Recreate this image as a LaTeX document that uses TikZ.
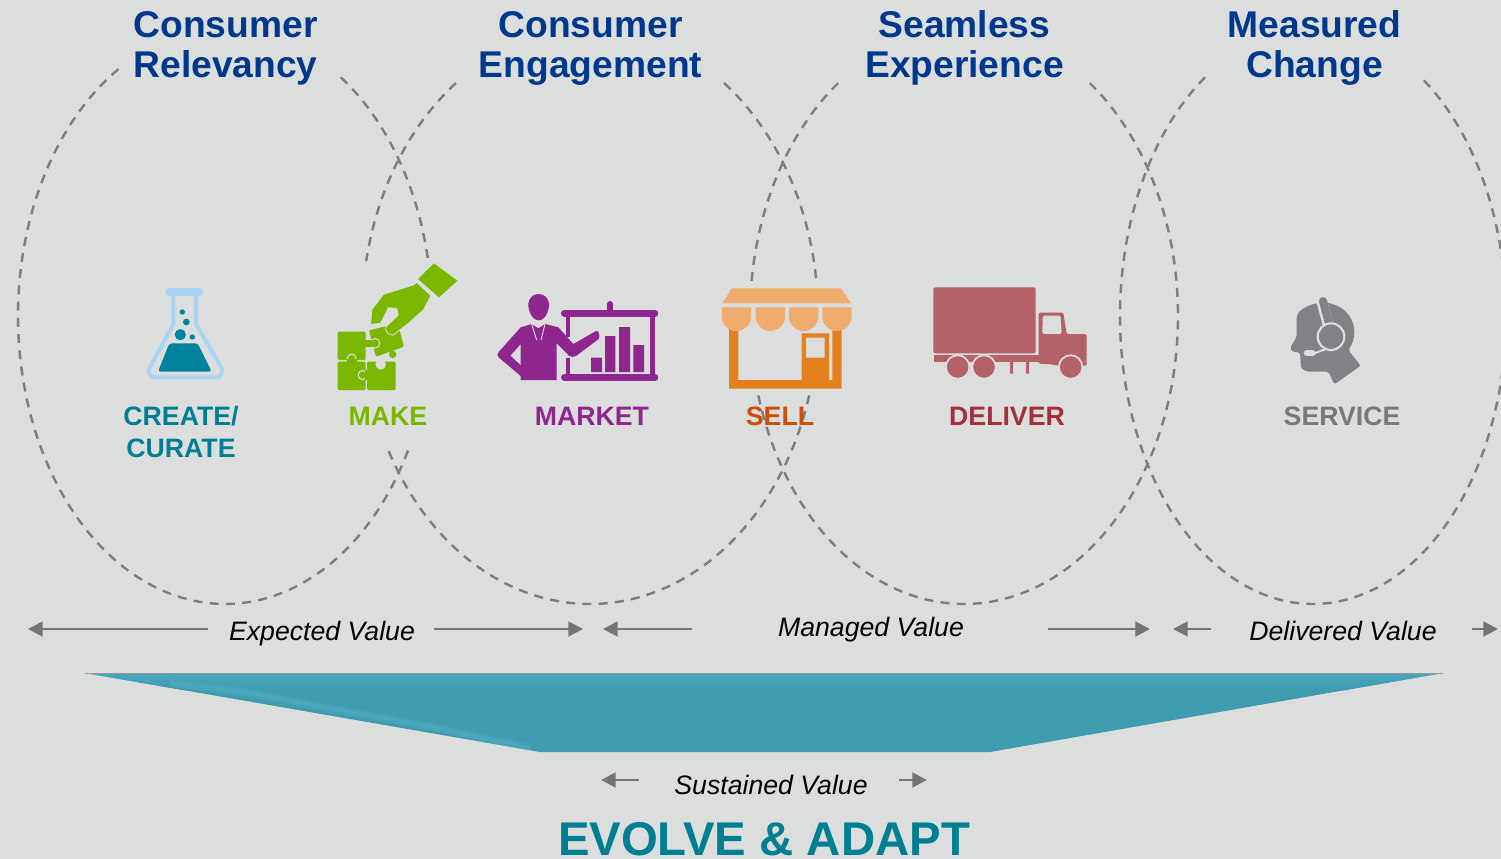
\documentclass[tikz,border=0pt]{standalone}
\usepackage{fontspec}
\setmainfont{Liberation Sans}
\usetikzlibrary{arrows.meta}
\definecolor{bgc}{HTML}{DCDEDD}
\definecolor{dashc}{HTML}{7C7E7F}
\definecolor{arrc}{HTML}{737576}
\definecolor{titlec}{HTML}{00388E}
\definecolor{tealc}{HTML}{007F93}
\definecolor{greenc}{HTML}{7AB800}
\definecolor{purpc}{HTML}{8F268E}
\definecolor{sellc}{HTML}{CC4E0A}
\definecolor{delc}{HTML}{A52F38}
\definecolor{servc}{HTML}{77797A}
\definecolor{flaskc}{HTML}{A9D3F2}
\definecolor{liqc}{HTML}{00819F}
\definecolor{awnc}{HTML}{F0AC6E}
\definecolor{shopc}{HTML}{E5801E}
\definecolor{truckc}{HTML}{B56168}
\definecolor{headc}{HTML}{808285}
\definecolor{func}{HTML}{3F9BAE}
\definecolor{funl}{HTML}{52AEC2}
\tikzset{
  px/.style={x=0.75pt,y=-0.75pt},
  zoomed/.style={x=0.25pt,y=-0.25pt},
  ell/.style={draw=dashc,line width=1.8pt,dash pattern=on 6.8pt off 5.4pt,samples=90,smooth},
  flow/.style={draw=arrc,line width=2.1pt,-{Triangle[length=11pt,width=11pt]}},
  title/.style={font=\fontsize{27.9}{30}\selectfont\bfseries,text=titlec,anchor=base,inner sep=0pt},
  lab/.style={font=\fontsize{20}{22}\selectfont\bfseries,anchor=base,inner sep=0pt},
  val/.style={font=\fontsize{20}{22}\selectfont\itshape,text=black,anchor=base,inner sep=0pt},
}
\newcommand{\ellarc}[6]{\draw[ell,domain=#5:#6] plot ({#1+#3*cos(\x)},{#2-#4*sin(\x)});}
\begin{document}
\begin{tikzpicture}[px]
\useasboundingbox (0,0) rectangle (1501,859);
\fill[bgc] (0,0) rectangle (1501,859);
\begin{scope}
\clip (0,0) rectangle (1501,859);
% dashed ellipses
\ellarc{225}{316}{207}{288}{121}{333}
\ellarc{225}{316}{207}{288}{56}{11}
\ellarc{590}{316}{228}{288}{126}{169}
\ellarc{590}{316}{228}{288}{54}{7}
\ellarc{590}{316}{228}{288}{208}{344}
\ellarc{964}{316}{214}{288}{126}{173}
\ellarc{964}{316}{214}{288}{196}{414}
\ellarc{1313}{316}{193}{288}{124}{415.5}
\end{scope}
% titles
\node[title] (t1a) at (225.5,37.5) {Consumer};
\node[title] (t1b) at (225.5,77.5) {Relevancy};
\node[title] (t2a) at (590.5,37.5) {Consumer};
\node[title] (t2b) at (590.5,77.5) {Engagement};
\node[title] (t3a) at (964.5,37.5) {Seamless};
\node[title] (t3b) at (964.5,77.5) {Experience};
\node[title] (t4a) at (1314.5,37.5) {Measured};
\node[title] (t4b) at (1314.5,77.5) {Change};
% flask
\begin{scope}[shift={(130,255)},zoomed]
\draw[flaskc,line width=3pt,line join=round,fill=none] (130,115)--(130,208)--(58,340) to[out=245,in=180] (73,367)--(260,367) to[out=0,in=295] (275,340)--(198,208)--(198,115);
\draw[flaskc,line width=6.2pt,line cap=round] (118,110)--(206,110);
\fill[liqc,rounded corners=2pt] (118,265)--(203,265)--(245,350)--(84,350)--cycle;
\fill[liqc] (157,171) circle[radius=2pt] (169,201) circle[radius=2.5pt] (151,239) circle[radius=4.2pt] (187,246) circle[radius=2pt];
\end{scope}
% puzzle and hand
\begin{scope}[shift={(130,255)},zoomed]
\fill[greenc,rounded corners=1pt] (623,230) rectangle (707,315);
\fill[greenc,rounded corners=1pt] (623,320) rectangle (707,405);
\fill[greenc,rounded corners=1pt] (711,320) rectangle (797,405);
\filldraw[fill=greenc,draw=bgc,line width=0.8pt] (665,310) circle[radius=3.2pt];
\fill[greenc] (650,312) rectangle (680,325);
\filldraw[fill=greenc,draw=bgc,line width=0.8pt] (698,360) circle[radius=3.4pt];
\fill[greenc] (705,345) rectangle (716,375);
\fill[bgc] (752,328) circle[radius=4pt];
\fill[greenc,rounded corners=1pt] (717,226)--(803,205)--(822,275)--(738,305)--cycle;
\fill[greenc] (788,298) circle[radius=2.8pt];
\filldraw[fill=greenc,draw=bgc,line width=0.7pt] (735,265) circle[radius=3.6pt];
\fill[greenc] (705,254) rectangle (727,276);
\fill[greenc] (912,25)--(982,77)--(927,127)--(864,72)--cycle;
\filldraw[fill=greenc,draw=bgc,line width=0.6pt,line join=round] (850,90)--(760,118)--(725,165)--(722,208)--(752,205)--(775,158)--(800,160)--(805,180)--(768,215) to[out=240,in=190] (790,240)--(835,205)--(880,165)--(903,122)--(860,82)--cycle;
\end{scope}
% presenter
\begin{scope}[shift={(490,275)},zoomed]
\draw[purpc,line width=5pt,line cap=round] (223,115)--(495,115);
\draw[purpc,line width=5pt,line cap=round] (223,307)--(495,307);
\draw[purpc,line width=4.5pt,line cap=round] (360,87)--(360,110);
\draw[purpc,line width=3pt] (234,115)--(234,186) (234,248)--(234,307);
\draw[purpc,line width=3.75pt] (487,115)--(487,307);
\fill[purpc] (303,248) rectangle (336,291) (345,183) rectangle (376,291) (387,156) rectangle (420,291) (430,210) rectangle (462,291);
\fill[purpc] (146,136) .. controls (125,136) and (115,105) .. (115,90) .. controls (115,68) and (130,57) .. (146,57) .. controls (162,57) and (177,68) .. (177,90) .. controls (177,105) and (167,136) .. (146,136) -- cycle;
\fill[purpc,line join=round] (92,157)--(125,147)--(145,160)--(165,147)--(205,157)--(250,207)--(318,168) to[out=20,in=60] (326,192)--(258,243) to[out=200,in=-30] (238,243)--(200,205)--(200,315)--(92,315)--(92,303)--(27,248) to[out=150,in=210] (27,230)--cycle;
\fill[bgc] (92,208)--(62,242)--(92,270)--cycle;
\draw[bgc,line width=0.7pt] (125,147)--(140,195) (165,147)--(153,195);
\end{scope}
% store
\begin{scope}[shift={(490,275)},zoomed]
\fill[shopc,even odd rule] (717,140) rectangle (1055,341) (745,140) rectangle (1027,315);
\fill[shopc,even odd rule] (935,175) rectangle (1017,315) (948,188) rectangle (1004,248);
\fill[awnc] (725,40)--(1053,40)--(1083,85)--(697,85)--cycle;
\foreach \a in {695,797,897,997}{
  \fill[awnc] (\a,97) -- ++(88,0) -- ++(0,27) arc[start angle=0,end angle=-180,radius=11pt] -- cycle;
}
\end{scope}
% truck
\begin{scope}[shift={(920,275)},zoomed]
\fill[truckc,rounded corners=1.5pt] (40,37) rectangle (347,235);
\fill[truckc] (43,241) rectangle (357,260);
\fill[truckc] (270,258) rectangle (279,296) (318,258) rectangle (327,296);
\fill[truckc,even odd rule,rounded corners=1pt] (356,113)--(430,113)--(440,177)--(500,177)--(500,272)--(415,272)--(395,268)--(356,266)--cycle (368,122)--(422,122)--(425,177)--(367,177)--cycle;
\foreach \c in {113,192,452}{\filldraw[fill=truckc,draw=bgc,line width=1.3pt] (\c,276) circle[radius=8.8pt];}
\end{scope}
% headset
\begin{scope}[shift={(920,275)},zoomed]
\fill[headc,rounded corners=1.5pt] (1130,125) .. controls (1140,100) and (1175,85) .. (1210,83) .. controls (1260,85) and (1300,120) .. (1303,170) .. controls (1302,195) and (1295,210) .. (1285,225) -- (1322,272) -- (1243,328) -- (1225,290) -- (1160,290) -- (1143,280) -- (1140,232) -- (1116,230) -- (1110,220) -- (1130,185) -- cycle;
\draw[bgc,line width=8pt] (1205,78)--(1224,150);
\draw[headc,line width=6pt,line cap=round] (1209,78)--(1228,150);
\filldraw[fill=headc,draw=bgc,line width=1.6pt] (1233,185) circle[radius=10pt];
\draw[bgc,line width=1.5pt] (1218,222)--(1185,234);
\draw[bgc,line width=4.5pt,line cap=round] (1160,235)--(1178,235);
\end{scope}
% step labels
\node[lab,text=tealc] (l1a) at (181,425) {CREATE/};
\node[lab,text=tealc] (l1b) at (181,457) {CURATE};
\node[lab,text=greenc] (l2) at (388,425) {MAKE};
\node[lab,text=purpc] (l3) at (592,425) {MARKET};
\node[lab,text=sellc] (l4) at (780,425) {SELL};
\node[lab,text=delc] (l5) at (1007,425) {DELIVER};
\node[lab,text=servc] (l6) at (1342,425) {SERVICE};
% value arrows
\coordinate (e1) at (208,629); \coordinate (e2) at (28,629);
\coordinate (e3) at (434,629); \coordinate (e4) at (583,629);
\coordinate (m1) at (692,629); \coordinate (m2) at (603,629);
\coordinate (m3) at (1048,629); \coordinate (m4) at (1150,629);
\coordinate (d1) at (1211,629); \coordinate (d2) at (1173,629);
\coordinate (d3) at (1472,629); \coordinate (d4) at (1498,629);
\coordinate (s1) at (639,780); \coordinate (s2) at (601,780);
\coordinate (s3) at (899,780); \coordinate (s4) at (927,780);
\foreach \a/\b in {e1/e2,e3/e4,m1/m2,m3/m4,d1/d2,d3/d4,s1/s2,s3/s4}{\draw[flow] (\a) -- (\b);}
\node[val] (v1) at (322,640) {Expected Value};
\node[val] (v2) at (871,636) {Managed Value};
\node[val] (v3) at (1343,640) {Delivered Value};
\node[val] (v4) at (771,794) {Sustained Value};
% funnel
\fill[func] (85,673)--(1443,673)--(990,752)--(540,752)--cycle;
\begin{scope}
\clip (85,673)--(1443,673)--(990,752)--(540,752)--cycle;
\shade[top color=func!50!funl,bottom color=func] (85,674) rectangle (1443,690);
\foreach \w in {6pt,4pt,2pt}{
  \draw[funl,opacity=.3,line width=\w,line join=round] (170,683)--(250,693)--(343,711)--(427,726)--(530,748);
}
\end{scope}
\draw[gray!80,line width=0.7pt] (85,673)--(1443,673);
\node[font=\fontsize{35.5}{38}\selectfont\bfseries,text=tealc,anchor=base,inner sep=0pt] (ev) at (764,855) {EVOLVE \& ADAPT};
\end{tikzpicture}
\end{document}
